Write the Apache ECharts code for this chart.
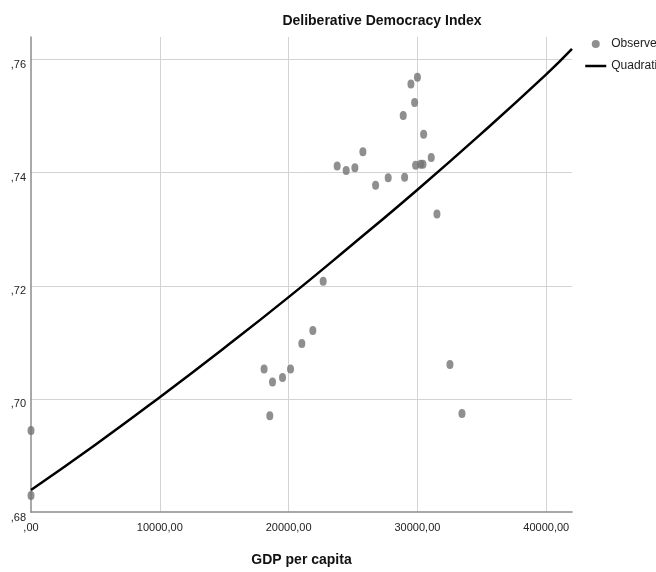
<!DOCTYPE html>
<html>
<head>
<meta charset="utf-8">
<script src="https://cdn.jsdelivr.net/npm/echarts@6/dist/echarts.min.js"></script>
<style>html,body{margin:0;padding:0;background:#fff}#c{width:656px;height:572px}</style>
</head>
<body>
<div id="c"></div>
<script>
// Observed points: GDP per capita vs Deliberative Democracy Index
var gdp = [0, 0, 18096, 18539, 18749, 19526, 20148, 21026, 21880, 22681, 23769, 24468, 25144, 25765, 26752, 27731, 28897, 29005, 29495, 29782, 29860, 30000, 30248, 30427, 30482, 31072, 31515, 32525, 33458];
var ddi = [0.6944, 0.6829, 0.7053, 0.6970, 0.7030, 0.7038, 0.7053, 0.7098, 0.7121, 0.7208, 0.7412, 0.7404, 0.7409, 0.7437, 0.7378, 0.7391, 0.7501, 0.7392, 0.7557, 0.7524, 0.7413, 0.7569, 0.7415, 0.7415, 0.7468, 0.7427, 0.7327, 0.7061, 0.6974];
// Quadratic fit curve
var fitX = [0, 5000, 10000, 15000, 20000, 25000, 30000, 35000, 40000, 42000];
var fitY = [0.6839, 0.6919, 0.7003, 0.7090, 0.7180, 0.7274, 0.7370, 0.7470, 0.7574, 0.7619];
var seriesNames = ['Observed', 'Quadratic'];
var titleText = 'Deliberative Democracy Index';
var xName = 'GDP per capita';

var sans = "'Liberation Sans', Arial, sans-serif";

var obs = gdp.map(function (g, i) { return [g, ddi[i]]; });
var fit = fitX.map(function (g, i) { return [g, fitY[i]]; });

var chart = echarts.init(document.getElementById('c'), null, {renderer: 'canvas'});
chart.setOption({
  animation: false,
  backgroundColor: '#ffffff',
  title: {
    text: titleText,
    left: 377,
    textAlign: 'center',
    top: 9,
    textStyle: {fontFamily: sans, fontSize: 14, fontWeight: 'bold', color: '#111'}
  },
  legend: {
    orient: 'vertical',
    left: 584,
    top: 38,
    padding: 0,
    itemWidth: 21,
    itemHeight: 8,
    itemGap: 10,
    textStyle: {fontFamily: sans, fontSize: 12, color: '#222'},
    data: [
      {name: seriesNames[0], icon: 'circle', itemStyle: {color: '#737373'}},
      {name: seriesNames[1], itemStyle: {color: 'rgba(0,0,0,0)', borderWidth: 0}, lineStyle: {color: '#000', width: 2.5}}
    ]
  },
  grid: {left: 31, right: 84, top: 37, bottom: 60, containLabel: false, outerBoundsMode: 'none'},
  xAxis: {
    type: 'value',
    min: 0, max: 42000, interval: 10000,
    name: xName,
    nameLocation: 'middle',
    nameGap: 41,
    nameTextStyle: {fontFamily: sans, fontSize: 14, fontWeight: 'bold', color: '#111'},
    axisLine: {show: true, lineStyle: {color: '#8c8c8c', width: 1.5}},
    axisTick: {show: false},
    axisLabel: {
      margin: 10, fontFamily: sans, fontSize: 11, color: '#222',
      showMaxLabel: false,
      formatter: function (v) { return v % 10000 === 0 ? (v === 0 ? ',00' : v + ',00') : ''; }
    },
    splitLine: {show: true, showMinLine: false, showMaxLine: false, lineStyle: {color: '#d3d3d3', width: 1}}
  },
  yAxis: {
    type: 'value',
    min: 0.68, max: 0.764, interval: 0.02,
    axisLine: {show: true, lineStyle: {color: '#8c8c8c', width: 1.5}},
    axisTick: {show: false},
    axisLabel: {
      margin: 5, fontFamily: sans, fontSize: 11, color: '#222',
      verticalAlign: 'top',
      showMaxLabel: false,
      formatter: function (v) { var s = v.toFixed(2); return Math.abs(Math.round(v * 100) % 2) === 0 ? s.replace('0.', ',') : ''; }
    },
    splitLine: {show: true, showMinLine: false, showMaxLine: false, lineStyle: {color: '#d3d3d3', width: 1}}
  },
  series: [
    {
      name: seriesNames[0],
      type: 'scatter',
      data: obs,
      symbol: 'circle',
      symbolSize: [7, 9],
      itemStyle: {color: '#737373'},
      z: 3
    },
    {
      name: seriesNames[1],
      type: 'line',
      data: fit,
      smooth: true,
      showSymbol: false,
      symbol: 'none',
      lineStyle: {color: '#000', width: 2.5},
      itemStyle: {color: '#000'},
      z: 4
    }
  ]
});
</script>
</body>
</html>
